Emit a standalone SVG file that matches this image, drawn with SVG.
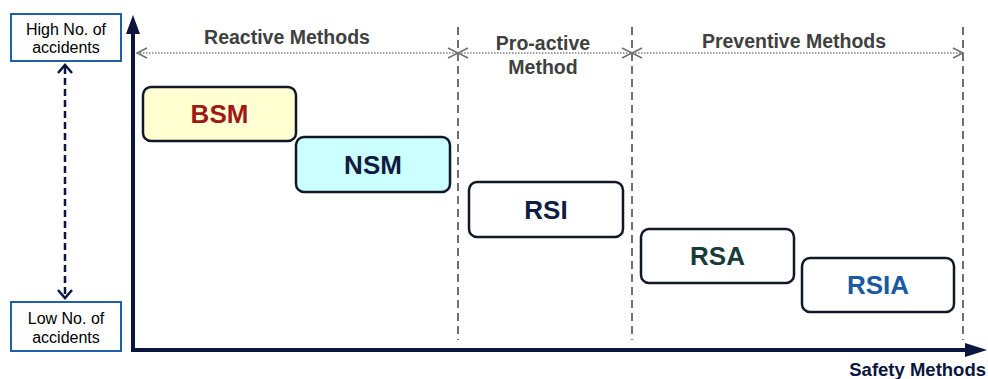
<svg xmlns="http://www.w3.org/2000/svg" width="988" height="379" viewBox="0 0 988 379">
<defs>
<style>
.lbl{font-family:"Liberation Sans",Arial,sans-serif;font-size:16px;fill:#000;text-anchor:middle}
.hdr{font-family:"Liberation Sans",Arial,sans-serif;font-size:19.5px;font-weight:bold;fill:#404040;text-anchor:middle}
.node{stroke:#101828;stroke-width:2.5}
.ntx{font-family:"Liberation Sans",Arial,sans-serif;font-size:26px;font-weight:bold;text-anchor:middle}
.div{stroke:#707070;stroke-width:2;stroke-dasharray:8 5;fill:none}
.dot{stroke:#808080;stroke-width:1.5;stroke-dasharray:1.5 1.5;fill:none}
.chev{stroke:#707070;stroke-width:1.5;fill:none}
.axis{stroke:#0a1640;stroke-width:4;fill:none}
.vd{stroke:#0a1640;stroke-width:2.5;stroke-dasharray:7 4;fill:none}
.vh{stroke:#0a1640;stroke-width:2.5;fill:none}
</style>
</defs>
<rect width="988" height="379" fill="#fff"/>

<g id="connectors">
  <!-- dividers -->
  <line class="div" x1="458" y1="27" x2="458" y2="340"/>
  <line class="div" x1="632" y1="27" x2="632" y2="340"/>
  <line class="div" x1="963" y1="27" x2="963" y2="340"/>
  <!-- dotted top range lines -->
  <line class="dot" x1="137" y1="53" x2="961" y2="53"/>
  <polyline class="chev" points="147,48 137,53 147,58"/>
  <polyline class="chev" points="448,48 458,53 448,58"/>
  <polyline class="chev" points="468,48 458,53 468,58"/>
  <polyline class="chev" points="622,48 632,53 622,58"/>
  <polyline class="chev" points="642,48 632,53 642,58"/>
  <polyline class="chev" points="953,48 963,53 953,58"/>
  <!-- vertical double arrow -->
  <line class="vd" x1="65" y1="67" x2="65" y2="297"/>
  <polyline class="vh" points="58,73 65,65 72,73"/>
  <polyline class="vh" points="58,290 65,298 72,290"/>
  <!-- axes -->
  <polyline class="axis" points="133,32 133,350 968,350"/>
  <polygon points="133,15 126,34 140,34" fill="#0a1640"/>
  <polygon points="987,350 965,343 965,357" fill="#0a1640"/>
</g>

<g id="high-label">
  <rect x="11" y="14" width="110" height="47" fill="#fff" stroke="#1f5ea8" stroke-width="2"/>
  <text class="lbl" x="66" y="35">High No. of</text>
  <text class="lbl" x="66" y="53">accidents</text>
</g>
<g id="low-label">
  <rect x="11" y="302" width="110" height="49" fill="#fff" stroke="#1f5ea8" stroke-width="2"/>
  <text class="lbl" x="66" y="324">Low No. of</text>
  <text class="lbl" x="66" y="343">accidents</text>
</g>

<g id="hdr-reactive"><text class="hdr" x="287" y="44">Reactive Methods</text></g>
<g id="hdr-proactive"><text class="hdr" x="543" y="50">Pro-active</text><text class="hdr" x="543" y="74">Method</text></g>
<g id="hdr-preventive"><text class="hdr" x="794" y="48">Preventive Methods</text></g>

<g id="bsm">
  <rect class="node" x="143" y="87" width="153" height="54" rx="8" fill="#ffffd2"/>
  <text class="ntx" x="219.500" y="123" fill="#a01818">BSM</text>
</g>
<g id="nsm">
  <rect class="node" x="296" y="137" width="154" height="55" rx="8" fill="#ccffff"/>
  <text class="ntx" x="373" y="173.500" fill="#101c40">NSM</text>
</g>
<g id="rsi">
  <rect class="node" x="469" y="182" width="154" height="55" rx="8" fill="#fff"/>
  <text class="ntx" x="546" y="218.500" fill="#101c40">RSI</text>
</g>
<g id="rsa">
  <rect class="node" x="641" y="229" width="153" height="54" rx="8" fill="#fff"/>
  <text class="ntx" x="717.500" y="265" fill="#183c3c">RSA</text>
</g>
<g id="rsia">
  <rect class="node" x="802" y="258" width="152" height="54" rx="8" fill="#fff"/>
  <text class="ntx" x="878" y="294" fill="#1a5aa0">RSIA</text>
</g>

<g id="x-label"><text x="986" y="376" font-family="'Liberation Sans',Arial,sans-serif" font-size="18.5" font-weight="bold" fill="#0a1640" text-anchor="end">Safety Methods</text></g>
</svg>
